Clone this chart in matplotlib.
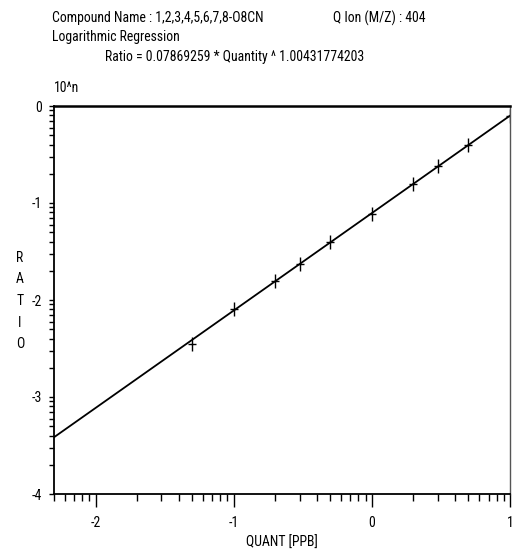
import numpy as np
import matplotlib
matplotlib.use("Agg")
import matplotlib.pyplot as plt
from matplotlib import font_manager
from matplotlib.path import Path
from matplotlib.ticker import LogLocator, FuncFormatter, NullFormatter

# calibration levels and measured response ratios
quantity = [0.05, 0.1, 0.2, 0.3, 0.5, 1.0, 2.0, 3.0, 5.0, 10.0]
ratio = [0.00350, 0.00800, 0.01570, 0.02330, 0.03930, 0.07760, 0.15800, 0.23800, 0.39500, 0.79500]

# fit: Ratio = a * Quantity ^ b
coef_a = 0.07869259
coef_b = 1.00431774203
x_range = [0.005, 10.0]
y_range = [1e-4, 1.0]

# prefer a narrow face if one is around
installed = {f.name for f in font_manager.fontManager.ttflist}
fam, fs = 'DejaVu Sans', 7.8
for name in ['Liberation Sans Narrow', 'Roboto Condensed', 'Open Sans Condensed', 'DejaVu Sans Condensed']:
    if name in installed:
        fam, fs = name, 9.9
        break
plt.rcParams['font.family'] = [fam, 'DejaVu Sans']

W, H = 521, 555
fig = plt.figure(figsize=(W / 100, H / 100), dpi=100)
ax = fig.add_axes([54 / W, 1 - 494 / H, (510 - 54) / W, (494 - 106) / H])

def fx(px):
    return px / W

def fy(py):
    return 1 - py / H

# tall "+" marker
plus = Path([(-0.6, 0), (0.6, 0), (0, -1), (0, 1)],
            [Path.MOVETO, Path.LINETO, Path.MOVETO, Path.LINETO])

qfit = np.array(x_range)
ax.plot(qfit, coef_a * qfit ** coef_b, color='black', lw=1.3)
ax.plot(quantity, ratio, linestyle='none', marker=plus, markersize=9.5,
        markeredgewidth=1.0, color='black')

ax.set_xscale('log')
ax.set_yscale('log')
ax.set_xlim(x_range)
ax.set_ylim(y_range)

exp_fmt = FuncFormatter(lambda v, pos: f"{int(round(np.log10(v)))}")
for axis in (ax.xaxis, ax.yaxis):
    axis.set_major_locator(LogLocator(base=10, numticks=20))
    axis.set_minor_locator(LogLocator(base=10, subs=np.arange(2, 10), numticks=20))
    axis.set_major_formatter(exp_fmt)
    axis.set_minor_formatter(NullFormatter())

ax.tick_params(axis='x', which='major', direction='out', length=9.5, width=1.0, pad=6, labelsize=fs)
ax.tick_params(axis='x', which='minor', direction='out', length=5, width=1.0)
ax.tick_params(axis='y', which='both', direction='out', length=3.5, width=1.0, pad=5, labelsize=fs)

for side in ['left', 'bottom']:
    ax.spines[side].set_linewidth(1.3)
ax.spines['top'].set_linewidth(1.8)
ax.spines['right'].set_linewidth(1.0)
ax.spines['right'].set_color('#555555')

fig.text(fx(52), fy(18), "Compound Name : 1,2,3,4,5,6,7,8-O8CN", fontsize=fs, va='center', ha='left')
fig.text(fx(333), fy(18), "Q Ion (M/Z) : 404", fontsize=fs, va='center', ha='left')
fig.text(fx(52), fy(37), "Logarithmic Regression", fontsize=fs, va='center', ha='left')
fig.text(fx(105), fy(57), f"Ratio = {coef_a} * Quantity ^ {coef_b}", fontsize=fs, va='center', ha='left')
fig.text(fx(54), fy(88), "10^n", fontsize=fs, va='center', ha='left')
fig.text(fx(20), fy(301), "R\nA\nT\nI\nO", fontsize=fs, va='center', ha='center', linespacing=1.7)
fig.text(fx(282), fy(543), "QUANT [PPB]", fontsize=fs, va='center', ha='center')

fig.savefig("out.png", dpi=100)
